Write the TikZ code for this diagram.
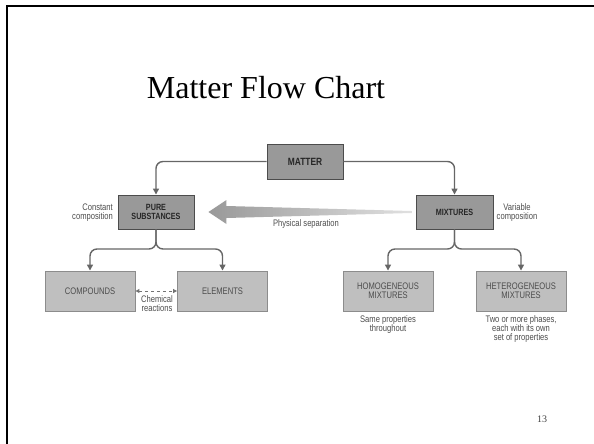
\documentclass[tikz,border=0pt]{standalone}
\usepackage{fontspec}
\setmainfont{Liberation Serif}
\newfontfamily\chartfont[FakeStretch=0.8]{Liberation Sans}
\usetikzlibrary{arrows.meta,calc}
\tikzset{
  topbox/.style={draw=black!70, fill=black!40, line width=0.9pt, inner sep=0pt,
    minimum width=76pt, minimum height=34pt, align=center, text=black!85,
    font=\chartfont\bfseries\fontsize{9}{9}\selectfont},
  lowbox/.style={draw=black!45, fill=black!25, line width=0.9pt, inner sep=0pt,
    minimum width=90pt, minimum height=40pt, align=center, text=black!70,
    font=\chartfont\fontsize{9.5}{9}\selectfont},
  note/.style={align=center, inner sep=0pt, text=black!70,
    font=\chartfont\fontsize{9.5}{9}\selectfont},
  conn/.style={draw=black!60, line width=1.4pt, rounded corners=7pt,
    -{Triangle[length=6pt,width=6pt]}},
}
\begin{document}
\begin{tikzpicture}[x=1pt,y=-1pt]
\useasboundingbox (0,0) rectangle (594,444);
\draw[line width=2pt] (7,444) -- (7,6) -- (594,6);
\node[font=\fontsize{32}{32}\selectfont] (title) at (266,88) {Matter Flow Chart};
\node[topbox,font=\chartfont\bfseries\fontsize{10.5}{10}\selectfont,minimum height=35pt] (matter) at (305,161.5) {MATTER};
\node[topbox] (pure) at (156,212) {PURE\\SUBSTANCES};
\node[topbox,minimum width=77pt] (mix) at (454.5,212) {MIXTURES};
\node[lowbox] (comp) at (90,291) {COMPOUNDS};
\node[lowbox] (elem) at (222.5,291) {ELEMENTS};
\node[lowbox] (homo) at (388,291) {HOMOGENEOUS\\MIXTURES};
\node[lowbox] (hetero) at (521,291) {HETEROGENEOUS\\MIXTURES};
\draw[conn] (matter.west) -| (pure.north);
\draw[conn] (matter.east) -| (mix.north);
\coordinate (pfork) at (156,249);
\coordinate (mfork) at (454.5,249);
\draw[conn] (pure.south) -- (pfork) -| (comp.north);
\draw[conn] (pure.south) -- (pfork) -| (elem.north);
\draw[conn] (mix.south) -- (mfork) -| (homo.north);
\draw[conn] (mix.south) -- (mfork) -| (hetero.north);
\draw[draw=black!55, line width=1pt, dashed, {Triangle[length=4pt,width=4pt]}-{Triangle[length=4pt,width=4pt]}] (comp.east) -- (elem.west);
\shade[left color=black!40, right color=black!12]
  ($(pure.east)+(14,0)$) -- ($(pure.east)+(32,-12)$) -- ($(pure.east)+(32,-6)$)
  -- ($(mix.west)+(-4,-1)$) -- ($(mix.west)+(-4,1)$) -- ($(pure.east)+(32,6)$)
  -- ($(pure.east)+(32,12)$) -- cycle;
\node[note] (sep) at (306,224) {Physical separation};
\node[note,align=right,anchor=east] (const) at (113,213) {Constant\\composition};
\node[note] (var) at (517,212.5) {Variable\\composition};
\node[note] (chem) at (157,303.5) {Chemical\\reactions};
\node[note,anchor=north] (same) at (388,315) {Same properties\\throughout};
\node[note,anchor=north] (two) at (521,315) {Two or more phases,\\each with its own\\set of properties};
\node[font=\fontsize{10}{10}\selectfont,text=black!75] (page) at (542,419) {13};
\end{tikzpicture}
\end{document}
